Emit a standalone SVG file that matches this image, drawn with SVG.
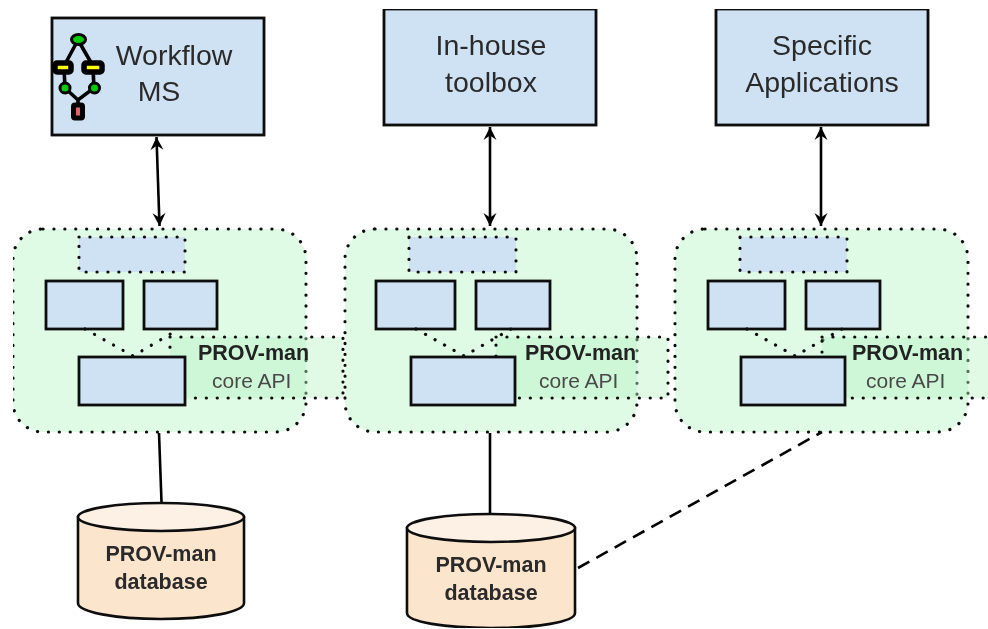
<svg xmlns="http://www.w3.org/2000/svg" width="988" height="629" viewBox="0 0 988 629">
<defs>
<style>
text{font-family:"Liberation Sans",Arial,sans-serif}
.t{font-size:28.5px;fill:#2b2b2b;text-anchor:middle}
.b{font-size:21.500px;font-weight:bold;fill:#222}
.c{font-size:21px;fill:#4a4a4a}
.d{font-size:21.500px;font-weight:bold;fill:#2b2b2b;text-anchor:middle}
.box{fill:#cfe2f3;stroke:#111;stroke-width:2.800}
.grp{fill:#dffae5;stroke:#111;stroke-width:3.200;stroke-dasharray:0.1 10.8;stroke-linecap:round}
.dot{fill:#cfe2f3;stroke:#111;stroke-width:3.200;stroke-dasharray:0.1 10.8;stroke-linecap:round}
.api{fill:#b6f2c4;fill-opacity:.42;stroke:#111;stroke-width:3.200;stroke-dasharray:0.1 10.8;stroke-linecap:round}
.dl{fill:none;stroke:#111;stroke-width:3.200;stroke-dasharray:0.1 10.8;stroke-linecap:round}
.ln{fill:none;stroke:#000;stroke-width:2.600}
.cyl{fill:#fce5cd;stroke:#111;stroke-width:2.600}
.cyt{fill:#fdf0e4;stroke:#111;stroke-width:2.600}
.ic{fill:none;stroke:#000;stroke-width:3.600}
</style>
<marker id="ah" markerWidth="18" markerHeight="18" refX="14" refY="9" orient="auto-start-reverse" markerUnits="userSpaceOnUse">
<path d="M1 2.500 L14 9 L1 15.500 L5.500 9 Z" fill="#000"/>
</marker>
<clipPath id="c1"><rect x="190" y="330" width="118" height="40"/></clipPath>
<clipPath id="c2"><rect x="520" y="330" width="115" height="40"/></clipPath>
<filter id="soft" x="0" y="0" width="100%" height="100%"><feGaussianBlur stdDeviation="0.7"/></filter>
</defs>
<rect width="988" height="629" fill="#fff"/>
<g filter="url(#soft)">
<g id="module-1">
<rect class="grp" x="13" y="229" width="293" height="203" rx="30"/>
<rect class="dot" x="79" y="237" width="106" height="35"/>
<rect class="box" x="46" y="281" width="77" height="48"/>
<rect class="box" x="144" y="281" width="73" height="48"/>
<path class="dl" d="M85 329L133 356L179 329"/>
<rect class="api" x="170" y="337" width="173" height="61"/>
<rect class="box" x="79" y="357" width="106" height="48"/>
<text class="b" x="198" y="360" clip-path="url(#c1)">PROV-man</text>
<text class="c" x="212" y="388">core API</text>
</g>
<g id="module-2">
<rect class="grp" x="345" y="229" width="292" height="203" rx="30"/>
<rect class="dot" x="409" y="237" width="107" height="35"/>
<rect class="box" x="376" y="281" width="79" height="48"/>
<rect class="box" x="476" y="281" width="74" height="48"/>
<path class="dl" d="M416 329L464 356L511 329"/>
<rect class="api" x="496" y="337" width="172" height="61"/>
<rect class="box" x="411" y="357" width="104" height="48"/>
<text class="b" x="525" y="360" clip-path="url(#c2)">PROV-man</text>
<text class="c" x="539" y="388">core API</text>
</g>
<g id="module-3">
<rect class="grp" x="675" y="229" width="293" height="203" rx="30"/>
<rect class="dot" x="740" y="237" width="107" height="35"/>
<rect class="box" x="708" y="281" width="77" height="48"/>
<rect class="box" x="806" y="281" width="74" height="48"/>
<path class="dl" d="M747 329L795 356L842 329"/>
<rect class="api" x="822" y="337" width="170" height="61"/>
<rect class="box" x="741" y="357" width="104" height="48"/>
<text class="b" x="852" y="360">PROV-man</text>
<text class="c" x="866" y="388">core API</text>
</g>
<g id="workflow-ms">
<rect class="box" x="52" y="18" width="212" height="117"/>
<path class="ic" d="M78 40L64 66M78 40L93 66M64 68L65 88L78 100L94 88L93 68M78 100V112"/>
<ellipse cx="78.500" cy="39.500" rx="7" ry="5" fill="#0c0" stroke="#000" stroke-width="3"/>
<rect x="55" y="63" width="16" height="9" rx="2" fill="#ff0" stroke="#000" stroke-width="5.500"/>
<rect x="84" y="63" width="18" height="9" rx="2" fill="#ff0" stroke="#000" stroke-width="5.500"/>
<circle cx="65" cy="88" r="5" fill="#0c0" stroke="#000" stroke-width="3"/>
<circle cx="94.500" cy="88" r="5" fill="#0c0" stroke="#000" stroke-width="3"/>
<rect x="73.500" y="105" width="9" height="13" rx="1.500" fill="#e06666" stroke="#000" stroke-width="5"/>
<text class="t" x="174" y="65">Workflow</text>
<text class="t" x="159" y="101">MS</text>
</g>
<g id="in-house-toolbox">
<rect class="box" x="384" y="9" width="212" height="116"/>
<text class="t" x="491" y="55">In-house</text>
<text class="t" x="491" y="92">toolbox</text>
</g>
<g id="specific-applications">
<rect class="box" x="716" y="9" width="212" height="116"/>
<text class="t" x="822" y="55">Specific</text>
<text class="t" x="822" y="92">Applications</text>
</g>
<g id="connectors">
<path class="ln" d="M156.500 137L159.500 226" marker-start="url(#ah)" marker-end="url(#ah)"/>
<path class="ln" d="M490 127V226" marker-start="url(#ah)" marker-end="url(#ah)"/>
<path class="ln" d="M821 127V226" marker-start="url(#ah)" marker-end="url(#ah)"/>
<path class="ln" d="M159 433L161.500 502"/>
<path class="ln" d="M490 433V514"/>
<path class="ln" d="M578 568L822 432" stroke-dasharray="13 8"/>
</g>
<g id="database-1">
<path class="cyl" d="M78 517V603C78 612 115 619 161 619C207 619 244 612 244 603V517Z"/>
<ellipse class="cyt" cx="161" cy="517" rx="83" ry="14"/>
<text class="d" x="161" y="561">PROV-man</text>
<text class="d" x="161" y="589">database</text>
</g>
<g id="database-2">
<path class="cyl" d="M407 528V613C407 622 445 628 491 628C537 628 575 622 575 613V528Z"/>
<ellipse class="cyt" cx="491" cy="528" rx="84" ry="14"/>
<text class="d" x="491" y="572">PROV-man</text>
<text class="d" x="491" y="600">database</text>
</g>
</g>
</svg>
